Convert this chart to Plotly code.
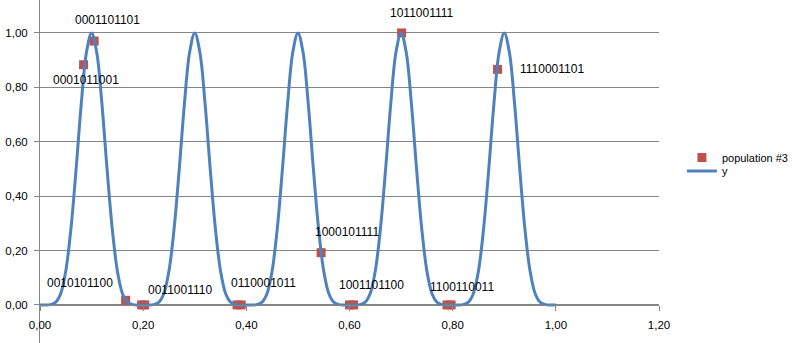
import plotly.graph_objects as go

# ---- data ----
x_curve = [0.00, 0.01, 0.02, 0.03, 0.04, 0.05, 0.06, 0.07, 0.08, 0.09,
           0.10, 0.11, 0.12, 0.13, 0.14, 0.15, 0.16, 0.17, 0.18, 0.19,
           0.20, 0.21, 0.22, 0.23, 0.24, 0.25, 0.26, 0.27, 0.28, 0.29,
           0.30, 0.31, 0.32, 0.33, 0.34, 0.35, 0.36, 0.37, 0.38, 0.39,
           0.40, 0.41, 0.42, 0.43, 0.44, 0.45, 0.46, 0.47, 0.48, 0.49,
           0.50, 0.51, 0.52, 0.53, 0.54, 0.55, 0.56, 0.57, 0.58, 0.59,
           0.60, 0.61, 0.62, 0.63, 0.64, 0.65, 0.66, 0.67, 0.68, 0.69,
           0.70, 0.71, 0.72, 0.73, 0.74, 0.75, 0.76, 0.77, 0.78, 0.79,
           0.80, 0.81, 0.82, 0.83, 0.84, 0.85, 0.86, 0.87, 0.88, 0.89,
           0.90, 0.91, 0.92, 0.93, 0.94, 0.95, 0.96, 0.97, 0.98, 0.99,
           1.00]
y_curve = [0, 0, 0.001, 0.009, 0.041, 0.125, 0.281, 0.50, 0.74, 0.928,
           1, 0.928, 0.74, 0.50, 0.281, 0.125, 0.041, 0.009, 0.001, 0,
           0, 0, 0.001, 0.009, 0.041, 0.125, 0.281, 0.50, 0.74, 0.928,
           1, 0.928, 0.74, 0.50, 0.281, 0.125, 0.041, 0.009, 0.001, 0,
           0, 0, 0.001, 0.009, 0.041, 0.125, 0.281, 0.50, 0.74, 0.928,
           1, 0.928, 0.74, 0.50, 0.281, 0.125, 0.041, 0.009, 0.001, 0,
           0, 0, 0.001, 0.009, 0.041, 0.125, 0.281, 0.50, 0.74, 0.928,
           1, 0.928, 0.74, 0.50, 0.281, 0.125, 0.041, 0.009, 0.001, 0,
           0, 0, 0.001, 0.009, 0.041, 0.125, 0.281, 0.50, 0.74, 0.928,
           1, 0.928, 0.74, 0.50, 0.281, 0.125, 0.041, 0.009, 0.001, 0,
           0]

pop_x = [0.0845, 0.105, 0.166, 0.197, 0.203, 0.382, 0.390, 0.545,
         0.600, 0.608, 0.701, 0.789, 0.797, 0.887]
pop_y = [0.883, 0.970, 0.017, 0.0, 0.0, 0.0, 0.0, 0.192,
         0.0, 0.0, 1.0, 0.0, 0.0, 0.866]
pop_labels = ["0001011001", "0001101101", "0010101100", "0011001110", "",
              "0110001011", "", "1000101111", "1001101100", "",
              "1011001111", "1100110011", "", "1110001101"]

x_ticks = [0.0, 0.2, 0.4, 0.6, 0.8, 1.0, 1.2]
x_ticklabels = ["0,00", "0,20", "0,40", "0,60", "0,80", "1,00", "1,20"]
y_ticks = [0.0, 0.2, 0.4, 0.6, 0.8, 1.0]
y_ticklabels = ["0,00", "0,20", "0,40", "0,60", "0,80", "1,00"]

# label offsets (pixels) relative to their points
label_dx = [2, 13, -46, 38, 0, 26, 0, 26, 22, 0, 20, 15, 0, 54]
label_dy = [-15, 21, 17, 15, 0, 22, 0, 21, 20, 0, 20, 18, 0, 0]

FONT = "Liberation Sans"
GRID = "#868686"

fig = go.Figure()
fig.add_trace(go.Scatter(
    x=pop_x, y=pop_y, mode="markers", name="population #3",
    marker=dict(symbol="square", size=9, color="#C0504D"),
    legend="legend",
))
fig.add_trace(go.Scatter(
    x=x_curve, y=y_curve, mode="lines", name="y",
    line=dict(color="#4F81BD", width=3, shape="spline"),
    legend="legend2",
))

for xv, yv, t, dx, dy in zip(pop_x, pop_y, pop_labels, label_dx, label_dy):
    if t:
        fig.add_annotation(x=xv, y=yv, text=t, showarrow=False,
                           xshift=dx, yshift=dy,
                           font=dict(family=FONT, size=12, color="#000000"))

legend_style = dict(xanchor="left", yanchor="top",
                    font=dict(family=FONT, size=11, color="#000000"),
                    bgcolor="rgba(0,0,0,0)")

fig.update_layout(
    width=795, height=343,
    margin=dict(l=40, r=136, t=0, b=0),
    paper_bgcolor="white", plot_bgcolor="white",
    font=dict(family=FONT, size=11.5, color="#000000"),
    showlegend=True,
    legend=dict(x=1.037, y=0.583, **legend_style),
    legend2=dict(x=1.037, y=0.544, **legend_style),
    xaxis=dict(range=[0, 1.2], tickvals=x_ticks, ticktext=x_ticklabels,
               showgrid=False, zeroline=False, showline=True,
               linecolor=GRID, linewidth=1, ticks="outside", ticklen=5,
               tickcolor=GRID, anchor="free", position=1 - 305 / 343,
               ticklabelstandoff=4),
    yaxis=dict(range=[-0.14, 1.121], tickvals=y_ticks, ticktext=y_ticklabels,
               showgrid=True, gridcolor=GRID, gridwidth=1, zeroline=False,
               showline=True, linecolor=GRID, linewidth=1, ticks="outside",
               ticklen=5, tickcolor=GRID, ticklabelstandoff=4),
)

fig.write_html("out.html")
